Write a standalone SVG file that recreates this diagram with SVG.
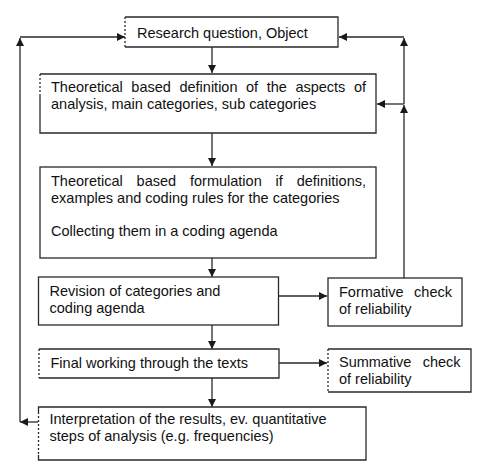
<svg xmlns="http://www.w3.org/2000/svg" width="499" height="471" viewBox="0 0 499 471">
<style>
.box{fill:#fff;stroke:#2a2a2a;stroke-width:1.3}
.edge{fill:none;stroke:#2a2a2a;stroke-width:1.3}
.dash{fill:none;stroke:#2a2a2a;stroke-width:1.3;stroke-dasharray:2,2}
.c{fill:none;stroke:#2a2a2a;stroke-width:1.3}
.a{marker-end:url(#ah)}
text{font-family:"Liberation Sans",Arial,sans-serif;font-size:14.5px;fill:#111}
</style>
<defs>
<marker id="ah" viewBox="0 0 10 10" refX="10" refY="5" markerWidth="9" markerHeight="8" markerUnits="userSpaceOnUse" orient="auto">
<path d="M0,0 L10,5 L0,10 z" fill="#1a1a1a"/>
</marker>
</defs>
<rect width="499" height="471" fill="#fff"/>
<g id="connectors">
<path class="c a" d="M212,47 V73"/>
<path class="c a" d="M212,133 V166"/>
<path class="c a" d="M212,258 V277"/>
<path class="c a" d="M212,325 V349"/>
<path class="c a" d="M212,378 V407"/>
<path class="c a" d="M279,296 H327"/>
<path class="c a" d="M279,363 H327"/>
<path class="c a" d="M38,422 H20"/>
<path class="c a" d="M20,422 V38"/>
<path class="c a" d="M20,37 H125"/>
<path class="c a" d="M404,278 V105"/>
<path class="c a" d="M404,104 H377"/>
<path class="c a" d="M404,104 V38"/>
<path class="c a" d="M404,37 H339"/>
</g>
<g id="n1">
<path class="edge" d="M125,17 H338 V47 H125"/>
<path class="dash" d="M125,17 V47"/>
<text x="137" y="38">Research question, Object</text>
</g>
<g id="n2">
<path class="edge" d="M40,74 H376 V133 H40 V94"/>
<path class="dash" d="M40,74 V94"/>
<text x="51" y="92" word-spacing="4.5" textLength="315" lengthAdjust="spacing">Theoretical based definition of the aspects of</text>
<text x="51" y="108.5">analysis, main categories, sub categories</text>
</g>
<g id="n3">
<rect class="box" x="40" y="167" width="336" height="91"/>
<text x="51" y="186" word-spacing="9.8" textLength="315" lengthAdjust="spacing">Theoretical based formulation if definitions,</text>
<text x="51" y="202.5">examples and coding rules for the categories</text>
<text x="51" y="236">Collecting them in a coding agenda</text>
</g>
<g id="n4">
<rect class="box" x="38.5" y="277" width="240" height="48"/>
<text x="49.5" y="296">Revision of categories and</text>
<text x="49.5" y="312.5">coding agenda</text>
</g>
<g id="n5">
<rect class="box" x="328" y="278" width="134" height="48"/>
<text x="339" y="297" word-spacing="6.6" textLength="113" lengthAdjust="spacing">Formative check</text>
<text x="339" y="313.5">of reliability</text>
</g>
<g id="n6">
<path class="edge" d="M39,349 H279 V378 H39"/>
<path class="dash" d="M39,349 V378"/>
<text x="50.5" y="368">Final working through the texts</text>
</g>
<g id="n7">
<path class="edge" d="M328,349 H471 V392 H328"/>
<path class="dash" d="M328,349 V392"/>
<text x="339" y="367" word-spacing="7.3" textLength="121.5" lengthAdjust="spacing">Summative check</text>
<text x="339" y="383.5">of reliability</text>
</g>
<g id="n8">
<path class="edge" d="M38.5,455 V460 H366 V407 H38.5 V412"/>
<path class="dash" d="M38.5,412 V455"/>
<text x="49.5" y="424">Interpretation of the results, ev. quantitative</text>
<text x="49.5" y="441">steps of analysis (e.g. frequencies)</text>
</g>
</svg>
